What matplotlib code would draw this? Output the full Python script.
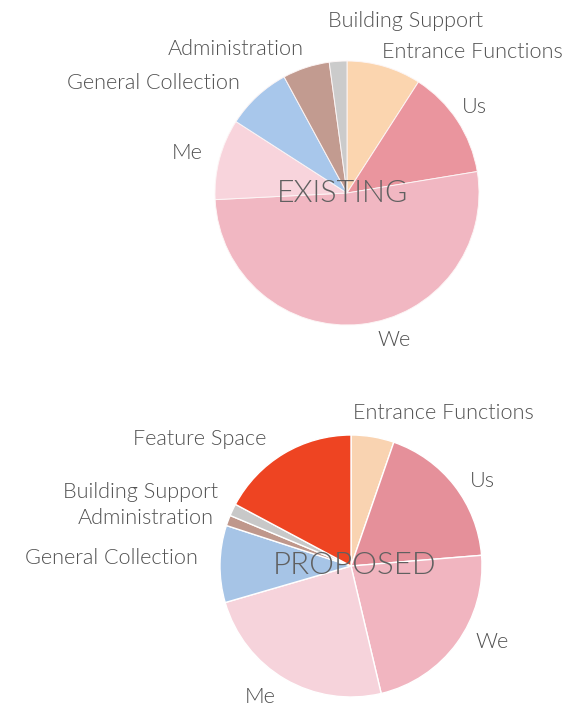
import matplotlib.pyplot as plt

# space shares (%) per programme area, clockwise from 12 o'clock
existing_labels = ["Entrance Functions", "Us", "We", "Me", "General Collection",
                   "Administration", "Building Support"]
existing_values = [9.1, 13.3, 51.8, 9.9, 8.0, 5.75, 2.15]
existing_colors = ["#fbd3ab", "#e98f99", "#f1b3bf", "#f8d2db", "#a4c4ea",
                   "#bf968a", "#c9c9c9"]

proposed_labels = ["Entrance Functions", "Us", "We", "Me", "General Collection",
                   "Administration", "Building Support", "Feature Space"]
proposed_values = [5.3, 18.4, 22.6, 24.2, 9.5, 1.3, 1.5, 17.2]
proposed_colors = ["#f9d3b1", "#e5909a", "#f1b5c0", "#f6d3db", "#a6c4e6",
                   "#bf978b", "#c8c8c8", "#ee4422"]

# label anchor points (pixels from top-left), same order as the labels
existing_label_xy = [(472, 52), (474, 107), (394, 340), (187, 153),
                     (153, 83), (236, 49), (406, 21)]
proposed_label_xy = [(443, 413), (482, 481), (492, 642), (260, 697),
                     (111, 558), (146, 518), (141, 492), (200, 439)]

W, H = 565, 709
fig = plt.figure(figsize=(W / 100, H / 100), dpi=100)
ax = fig.add_axes([0, 0, 1, 1])

font = dict(family=["Lato", "DejaVu Sans"], fontweight=300, color="#505050",
            zorder=5)

ax.pie(existing_values, colors=existing_colors, startangle=90, counterclock=False,
       center=(347, H - 193), radius=132,
       wedgeprops=dict(edgecolor="#fdf6f6", linewidth=0.7, alpha=0.95))
ax.pie(proposed_values, colors=proposed_colors, startangle=90, counterclock=False,
       center=(351, H - 566), radius=131,
       wedgeprops=dict(edgecolor="white", linewidth=1.0))

# pie() resets the limits, so fix the pixel frame afterwards
ax.set_xlim(0, W)
ax.set_ylim(0, H)
ax.set_aspect("equal")
ax.axis("off")

for lab, (x, y) in zip(existing_labels, existing_label_xy):
    ax.text(x, H - y, lab, ha="center", va="center", fontsize=15.6, **font)
for lab, (x, y) in zip(proposed_labels, proposed_label_xy):
    ax.text(x, H - y, lab, ha="center", va="center", fontsize=15.6, **font)

title_font = dict(font, color="#606060")
ax.text(343, H - 193, "EXISTING", ha="center", va="center", fontsize=22,
        **title_font)
ax.text(355, H - 566, "PROPOSED", ha="center", va="center", fontsize=22.5,
        **title_font)

fig.savefig("out.png", dpi=100)
